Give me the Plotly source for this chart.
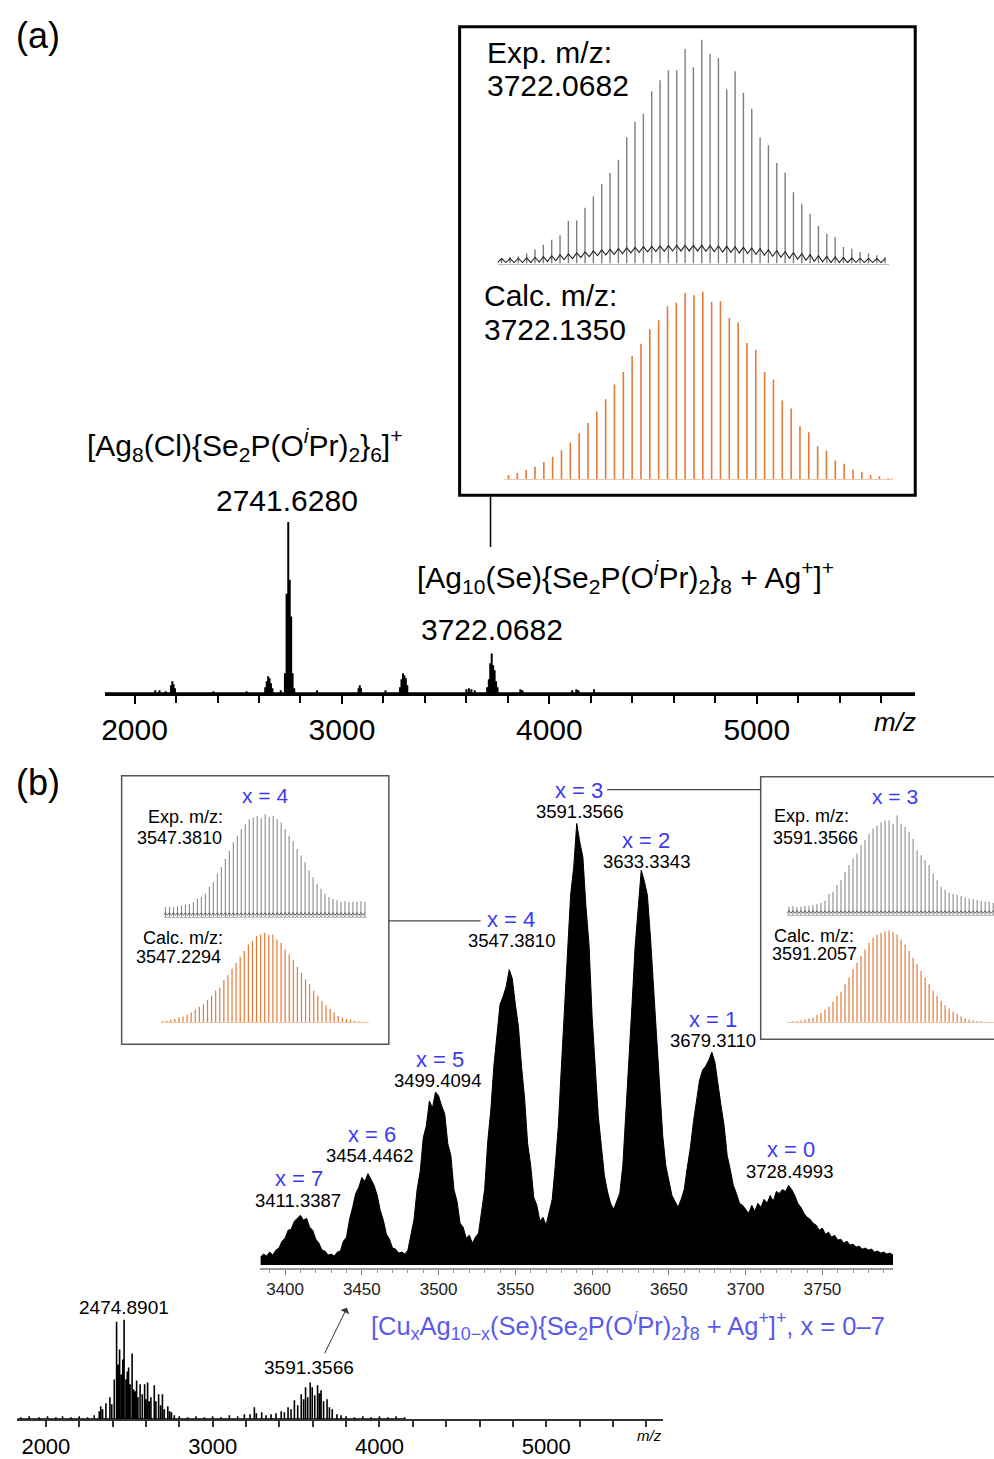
import plotly.graph_objects as go

W, H = 994, 1459
FONT = "Liberation Sans, Arial, sans-serif"
BLUE = "#3a3af2"
BLUE2 = "#5a5aee"
ORANGE = "#e47a38"

# ---------------- data ----------------
# (a) survey spectrum: stick m/z and intensity (a.u.)
a_mz = [2100, 2120, 2150, 2176, 2182, 2188, 2195, 2380, 2540,
        2630, 2637, 2644, 2651, 2658, 2665, 2705, 2725, 2733, 2741, 2748, 2755, 2762, 2770,
        2880, 3080, 3086, 3092, 3210, 3280, 3287, 3294, 3301, 3308, 3315,
        3600, 3612, 3624, 3640, 3700, 3708, 3715, 3722, 3729, 3736, 3743, 3750,
        3860, 3870, 4110, 4130, 4140, 4215]
a_int = [3, 3, 2, 8, 12, 9, 5, 2, 2,
         6, 12, 17, 15, 10, 5, 3, 20, 100, 172, 114, 77, 20, 5,
         3, 5, 8, 5, 3, 6, 14, 20, 18, 15, 8,
         4, 5, 4, 3, 6, 14, 30, 40, 28, 23, 12, 6,
         4, 3, 3, 4, 3, 4]
a_ticks = [2000, 3000, 4000, 5000]

# (a) inset: experimental isotope pattern (peak tops and valleys)
a_exp_mz = list(range(3699, 3746))
a_exp_top = [17, 20, 22, 30, 42, 57, 72, 85, 128, 130,
             168, 203, 240, 273, 313, 380, 428, 452, 520, 553,
             583, 583, 647, 592, 675, 632, 620, 525, 580, 515,
             467, 380, 357, 303, 275, 215, 180, 150, 113, 90,
             80, 50, 45, 35, 30, 25, 20]
a_exp_valley = [10, 10, 11, 12, 14, 16, 18, 21, 24, 27,
                30, 33, 36, 38, 40, 42, 44, 46, 47, 48,
                49, 50, 50, 50, 50, 49, 48, 47, 46, 44,
                42, 40, 37, 34, 31, 28, 25, 22, 19, 17,
                15, 13, 12, 11, 10, 10, 10]
# (a) inset: calculated isotope pattern
a_calc_mz = list(range(3700, 3744))
a_calc = [13, 19, 28, 38, 52, 68, 88, 111, 139, 170,
          205, 242, 286, 324, 372, 409, 453, 480, 522, 533,
          562, 555, 566, 535, 537, 487, 473, 411, 391, 324,
          301, 238, 214, 160, 142, 100, 86, 57, 47, 29,
          23, 13, 9, 3]

# (b) expanded spectrum 3384-3796 (2 m/z steps)
b_zoom_start, b_zoom_step = 3384, 2
b_zoom_int = [8, 11, 9, 13, 10, 15, 17, 24, 27, 35,
              36, 44, 47, 50, 45, 47, 38, 35, 26, 22,
              15, 14, 10, 11, 9, 13, 14, 24, 28, 46,
              58, 72, 78, 88, 84, 92, 86, 80, 70, 55,
              45, 31, 26, 17, 16, 12, 13, 11, 15, 30,
              46, 76, 94, 128, 140, 165, 158, 174, 170, 160,
              152, 122, 110, 76, 64, 42, 38, 27, 30, 22,
              28, 32, 55, 76, 124, 156, 200, 230, 262, 270,
              280, 297, 288, 262, 240, 200, 168, 122, 100, 68,
              60, 44, 48, 40, 52, 66, 100, 140, 200, 262,
              310, 372, 400, 444, 425, 410, 360, 322, 250, 200,
              150, 120, 90, 74, 62, 56, 64, 72, 100, 150,
              200, 262, 320, 362, 397, 386, 372, 330, 280, 222,
              170, 130, 100, 84, 70, 64, 58, 66, 76, 98,
              118, 144, 164, 186, 196, 200, 206, 214, 204, 180,
              160, 140, 110, 96, 80, 72, 62, 60, 56, 52,
              60, 54, 62, 58, 66, 62, 70, 64, 74, 72,
              76, 74, 80, 76, 70, 62, 58, 52, 48, 46,
              42, 40, 35, 37, 31, 33, 28, 30, 25, 26,
              22, 24, 20, 21, 18, 19, 16, 17, 15, 16,
              13, 14, 12, 13, 11, 12, 10]
b_zoom_ticks = [3400, 3450, 3500, 3550, 3600, 3650, 3700, 3750]
b_peak_x = ["x = 7", "x = 6", "x = 5", "x = 4", "x = 3", "x = 2", "x = 1", "x = 0"]
b_peak_mz = ["3411.3387", "3454.4462", "3499.4094", "3547.3810",
             "3591.3566", "3633.3343", "3679.3110", "3728.4993"]

# (b) survey spectrum sticks
b_mz = [1850, 1900, 1960, 2010, 2060, 2100, 2150, 2200, 2250, 2290,
        2320, 2329, 2340, 2360, 2384, 2395, 2410, 2424, 2433, 2442, 2452, 2461, 2469,
        2480, 2488, 2496, 2505, 2517, 2526, 2535, 2544, 2552, 2565, 2578, 2592, 2600,
        2610, 2620, 2630, 2650, 2660, 2676, 2688, 2699, 2710, 2731, 2742, 2753, 2770,
        2800, 2850, 2900, 2950, 3000, 3050, 3100, 3150, 3190,
        3224, 3250, 3262, 3294, 3320, 3350, 3380, 3411, 3430, 3452, 3470, 3490, 3510,
        3531, 3545, 3557, 3570, 3585, 3597, 3612, 3629, 3640, 3650, 3665, 3686, 3700,
        3717, 3745, 3770, 3800, 3850, 3900, 3950, 4000, 4050, 4100, 4150]
b_int = [2, 3, 2, 3, 2, 3, 2, 3, 2, 4,
         8, 13, 10, 16, 22, 15, 40, 98, 55, 70, 45, 60, 100,
         40, 48, 52, 35, 66, 30, 28, 39, 22, 35, 25, 35, 20,
         37, 18, 22, 34, 18, 25, 14, 25, 10, 13, 8, 7, 4,
         3, 2, 3, 2, 3, 2, 4, 3, 5,
         5, 12, 6, 7, 4, 5, 6, 8, 7, 12, 10, 19, 14,
         25, 20, 32, 22, 37, 32, 24, 34, 26, 29, 18, 20, 12,
         10, 5, 4, 3, 2, 3, 2, 3, 2, 3, 2]
b_ticks = [2000, 3000, 4000, 5000]

# (b) insets: x = 4 (left) and x = 3 (right)
l_mz = list(range(3522, 3573))
l_exp = [30, 31, 29, 32, 35, 37, 40, 45, 55, 60,
         70, 90, 105, 130, 150, 175, 200, 225, 245, 265,
         280, 295, 300, 305, 298, 310, 302, 305, 295, 285,
         265, 245, 230, 205, 185, 165, 140, 120, 100, 85,
         70, 60, 55, 50, 45, 47, 44, 46, 45, 47, 45]
l_calc = [3, 5, 8, 10, 15, 18, 23, 30, 38, 47,
          55, 68, 80, 95, 105, 128, 142, 162, 180, 198,
          215, 235, 245, 260, 265, 270, 265, 265, 250, 240,
          220, 205, 188, 168, 150, 130, 115, 95, 80, 65,
          52, 40, 30, 20, 15, 10, 8, 5, 3, 2, 2]
r_mz = list(range(3566, 3618))
r_exp = [25, 26, 24, 25, 27, 28, 30, 33, 37, 43,
         63, 70, 90, 105, 130, 150, 170, 185, 210, 225,
         245, 260, 270, 280, 285, 285, 275, 300, 275, 265,
         250, 230, 195, 180, 165, 150, 125, 105, 85, 75,
         67, 63, 60, 57, 53, 50, 47, 45, 43, 40, 40, 37]
r_calc = [2, 3, 4, 6, 8, 12, 15, 22, 28, 38,
          48, 62, 80, 92, 115, 135, 160, 180, 200, 220,
          240, 255, 265, 270, 275, 277, 272, 265, 250, 235,
          215, 195, 175, 155, 135, 115, 95, 80, 65, 52,
          42, 32, 25, 18, 12, 8, 6, 4, 3, 2, 1, 1]


# ---------------- helpers ----------------
def fx(p):
    return p / W


def fy(p):
    return 1 - p / H


def sticks(mz, h):
    xs, ys = [], []
    for m, v in zip(mz, h):
        xs += [m, m, None]
        ys += [0, v, None]
    return xs, ys


def profile(mz, h, x0, x1):
    xs, ys = [x0], [0]
    for m, v in zip(mz, h):
        xs += [m, m, m]
        ys += [0, v, 0]
    xs.append(x1)
    ys.append(0)
    return xs, ys


fig = go.Figure()


def add_line(xs, ys, ax, color, width, fill=None):
    fig.add_trace(go.Scatter(x=xs, y=ys, mode="lines", xaxis="x" + ax, yaxis="y" + ax,
                             line=dict(color=color, width=width), fill=fill,
                             fillcolor=color if fill else None, hoverinfo="skip",
                             connectgaps=False))


# (a) survey
xs, ys = profile(a_mz, a_int, 1856, 5764)
add_line(xs, ys, "", "black", 2)

# (a) inset exp: grey peaks with a dark wavy baseline
xs, ys = sticks(a_exp_mz, a_exp_top)
add_line(xs, ys, "2", "#7d7d7d", 1.4)
kx, ky = [], []
for m, t, v in zip(a_exp_mz, a_exp_top, a_exp_valley):
    kx += [m - 0.5, m]
    ky += [max(3, v - 12), min(t, v + 5)]
add_line(kx, ky, "2", "#222222", 1.1)

# (a) inset calc
xs, ys = sticks(a_calc_mz, a_calc)
add_line(xs, ys, "3", ORANGE, 1.6)

# (b) expanded spectrum
zx = [b_zoom_start + b_zoom_step * i for i in range(len(b_zoom_int))]
add_line(zx, b_zoom_int, "4", "black", 1, fill="tozeroy")

# (b) survey
xs, ys = profile(b_mz, b_int, 1830, 4158)
add_line(xs, ys, "5", "black", 1.6)

# (b) insets
for ax, mz, hh, col, wd in [("6", l_mz, l_exp, "#8c8c8c", 1.1), ("7", l_mz, l_calc, ORANGE, 1.2),
                            ("8", r_mz, r_exp, "#8c8c8c", 1.1), ("9", r_mz, r_calc, ORANGE, 1.2)]:
    xs, ys = sticks(mz, hh)
    add_line(xs, ys, ax, col, wd)
    if col != ORANGE:
        zzx, zzy = [], []
        for m in mz:
            zzx += [m - 0.5, m]
            zzy += [5, 13]
        add_line(zzx, zzy, ax, "#444444", 0.8)


# ---------------- axes ----------------
def hidden_y(b, t, rng, anchor):
    return dict(domain=[fy(b), fy(t)], range=rng, visible=False, fixedrange=True, anchor=anchor)


def xaxis(l, r, rng, anchor, **kw):
    d = dict(domain=[fx(l), min(1.0, fx(r))], range=rng, anchor=anchor, showgrid=False,
             zeroline=False, fixedrange=True)
    d.update(kw)
    return d


plain = dict(showline=True, linecolor="#bbbbbb", linewidth=1, ticks="", showticklabels=False)

layout = dict(
    width=W, height=H, margin=dict(l=0, r=0, t=0, b=0),
    paper_bgcolor="white", plot_bgcolor="rgba(0,0,0,0)", showlegend=False,
    font=dict(family=FONT, color="black"),
    xaxis=xaxis(102, 915, [1856, 5764], "y", showline=True, linecolor="black", linewidth=3,
                ticks="outside", ticklen=8, tickwidth=2, tickcolor="black",
                tickmode="array", tickvals=a_ticks, tickfont=dict(size=30, family=FONT),
                minor=dict(tickmode="array", tickvals=list(range(2000, 5800, 200)),
                           ticks="outside", ticklen=7, tickwidth=2, tickcolor="black")),
    yaxis=hidden_y(697, 440, [0, 257], "x"),
    xaxis2=xaxis(496, 889, [3698.5, 3745.5], "y2", **plain),
    yaxis2=hidden_y(265, 38, [0, 681], "x2"),
    xaxis3=xaxis(502.6, 892.4, [3699.5, 3743.5], "y3",
                 showline=True, linecolor="#f3c7a8", linewidth=1, ticks="", showticklabels=False),
    yaxis3=hidden_y(482, 290, [0, 576], "x3"),
    xaxis4=xaxis(258, 893, [3383.8, 3796.2], "y4", showline=True, linecolor="#9a9a9a", linewidth=1.5,
                 ticks="outside", ticklen=5, tickwidth=1, tickcolor="#777777",
                 tickmode="array", tickvals=b_zoom_ticks, tickfont=dict(size=17, family=FONT, color="#222222"),
                 minor=dict(tickmode="array", tickvals=list(range(3390, 3800, 10)),
                            ticks="outside", ticklen=3, tickwidth=1, tickcolor="#999999")),
    yaxis4=hidden_y(1275, 820, [-3, 452], "x4"),
    xaxis5=xaxis(14, 662, [1826.7, 5700], "y5", showline=True, linecolor="#333333", linewidth=2,
                 ticks="outside", ticklen=6, tickwidth=1.5, tickcolor="#333333",
                 tickmode="array", tickvals=b_ticks, tickfont=dict(size=22, family=FONT),
                 minor=dict(tickmode="array", tickvals=list(range(2000, 5700, 200)),
                            ticks="outside", ticklen=6, tickwidth=1.5, tickcolor="#333333")),
    yaxis5=hidden_y(1427, 1320, [0, 107], "x5"),
    xaxis6=xaxis(161, 365, [3521.5, 3572.5], "y6", **plain),
    yaxis6=hidden_y(922, 815, [0, 321], "x6"),
    xaxis7=xaxis(158, 367, [3521.5, 3572.5], "y7",
                 showline=True, linecolor="#f3c7a8", linewidth=1, ticks="", showticklabels=False),
    yaxis7=hidden_y(1028, 936, [0, 276], "x7"),
    xaxis8=xaxis(786.3, 994.3, [3565.5, 3617.2], "y8", **plain),
    yaxis8=hidden_y(920, 818, [0, 306], "x8"),
    xaxis9=xaxis(786.3, 994.3, [3565.5, 3617.2], "y9",
                 showline=True, linecolor="#f3c7a8", linewidth=1, ticks="", showticklabels=False),
    yaxis9=hidden_y(1028, 934, [0, 282], "x9"),
)
fig.update_layout(**layout)

# ---------------- shapes ----------------
shapes = [
    dict(type="rect", x0=fx(458), x1=fx(915), y0=fy(498), y1=fy(27),
         line=dict(color="black", width=3)),
    dict(type="line", x0=fx(489), x1=fx(489), y0=fy(498), y1=fy(550),
         line=dict(color="black", width=1.5)),
    dict(type="rect", x0=fx(119), x1=fx(387), y0=fy(1050), y1=fy(780),
         line=dict(color="#555555", width=1.5)),
    dict(type="rect", x0=fx(760), x1=fx(1000), y0=fy(1045), y1=fy(781),
         line=dict(color="#555555", width=1.5)),
    dict(type="line", x0=fx(387), x1=fx(479), y0=fy(926), y1=fy(926),
         line=dict(color="#444444", width=1.2)),
    dict(type="line", x0=fx(606), x1=fx(760), y0=fy(794), y1=fy(794),
         line=dict(color="#444444", width=1.2)),
]
for s in shapes:
    s.update(xref="paper", yref="paper")
fig.update_layout(shapes=shapes)


# ---------------- annotations ----------------
def txt(x, y, s, size, anchor="center", color="black", italic=False):
    if italic:
        s = "<i>" + s + "</i>"
    fig.add_annotation(x=fx(x), y=fy(y), xref="paper", yref="paper", text=s, showarrow=False,
                       xanchor=anchor, yanchor="middle", font=dict(size=size, color=color, family=FONT))


IPR = "O<sup><i>i</i></sup>Pr"
txt(35, 36, "(a)", 36)
txt(483, 53, "Exp. m/z:", 30, "left")
txt(483, 86, "3722.0682", 30, "left")
txt(480, 297, "Calc. m/z:", 30, "left")
txt(480, 331, "3722.1350", 30, "left")
txt(82, 447, "[Ag<sub>8</sub>(Cl){Se<sub>2</sub>P(" + IPR + ")<sub>2</sub>}<sub>6</sub>]<sup>+</sup>", 30, "left")
txt(285, 503, "2741.6280", 30)
txt(413, 580, "[Ag<sub>10</sub>(Se){Se<sub>2</sub>P(" + IPR + ")<sub>2</sub>}<sub>8</sub> + Ag<sup>+</sup>]<sup>+</sup>",
    30, "left")
txt(490, 633, "3722.0682", 30)
txt(895, 726, "m/z", 26, italic=True)

txt(35, 787, "(b)", 36)
# left inset
txt(263, 800, "x = 4", 21, color=BLUE)
txt(223, 822, "Exp. m/z:", 18, "right")
txt(222, 843, "3547.3810", 18, "right")
txt(223, 943, "Calc. m/z:", 18, "right")
txt(221, 962, "3547.2294", 18, "right")
# right inset
txt(895, 801, "x = 3", 21, color=BLUE)
txt(771, 821, "Exp. m/z:", 18, "left")
txt(770, 843, "3591.3566", 18, "left")
txt(771, 941, "Calc. m/z:", 18, "left")
txt(769, 959, "3591.2057", 18, "left")

# peak labels in expanded spectrum
lab_px = [(297, 1185, 296, 1207), (370, 1141, 368, 1162), (438, 1065, 436, 1086),
          (510, 925, 510, 946), (578, 795, 578, 816), (645, 845, 645, 866),
          (712, 1025, 712, 1046), (790, 1156, 789, 1178)]
for (a, b, c, d), xl, ml in zip(lab_px, b_peak_x, b_peak_mz):
    txt(a, b, xl, 22, color=BLUE)
    txt(c, d, ml, 18.5)

# bottom survey
txt(121, 1315, "2474.8901", 19)
txt(307, 1375, "3591.3566", 19)
txt(648, 1443, "m/z", 15, italic=True)
txt(367, 1333, "[Cu<sub>x</sub>Ag<sub>10−x</sub>(Se){Se<sub>2</sub>P(" + IPR +
    ")<sub>2</sub>}<sub>8</sub> + Ag<sup>+</sup>]<sup>+</sup>, x = 0–7", 25.5, "left", color=BLUE2)
fig.add_annotation(x=fx(345), y=fy(1315), xref="paper", yref="paper", showarrow=True,
                   ax=322 - 345, ay=1362 - 1315, arrowhead=1, arrowsize=1.6, arrowwidth=1,
                   arrowcolor="#333333", text="")

fig.write_html("out.html")
